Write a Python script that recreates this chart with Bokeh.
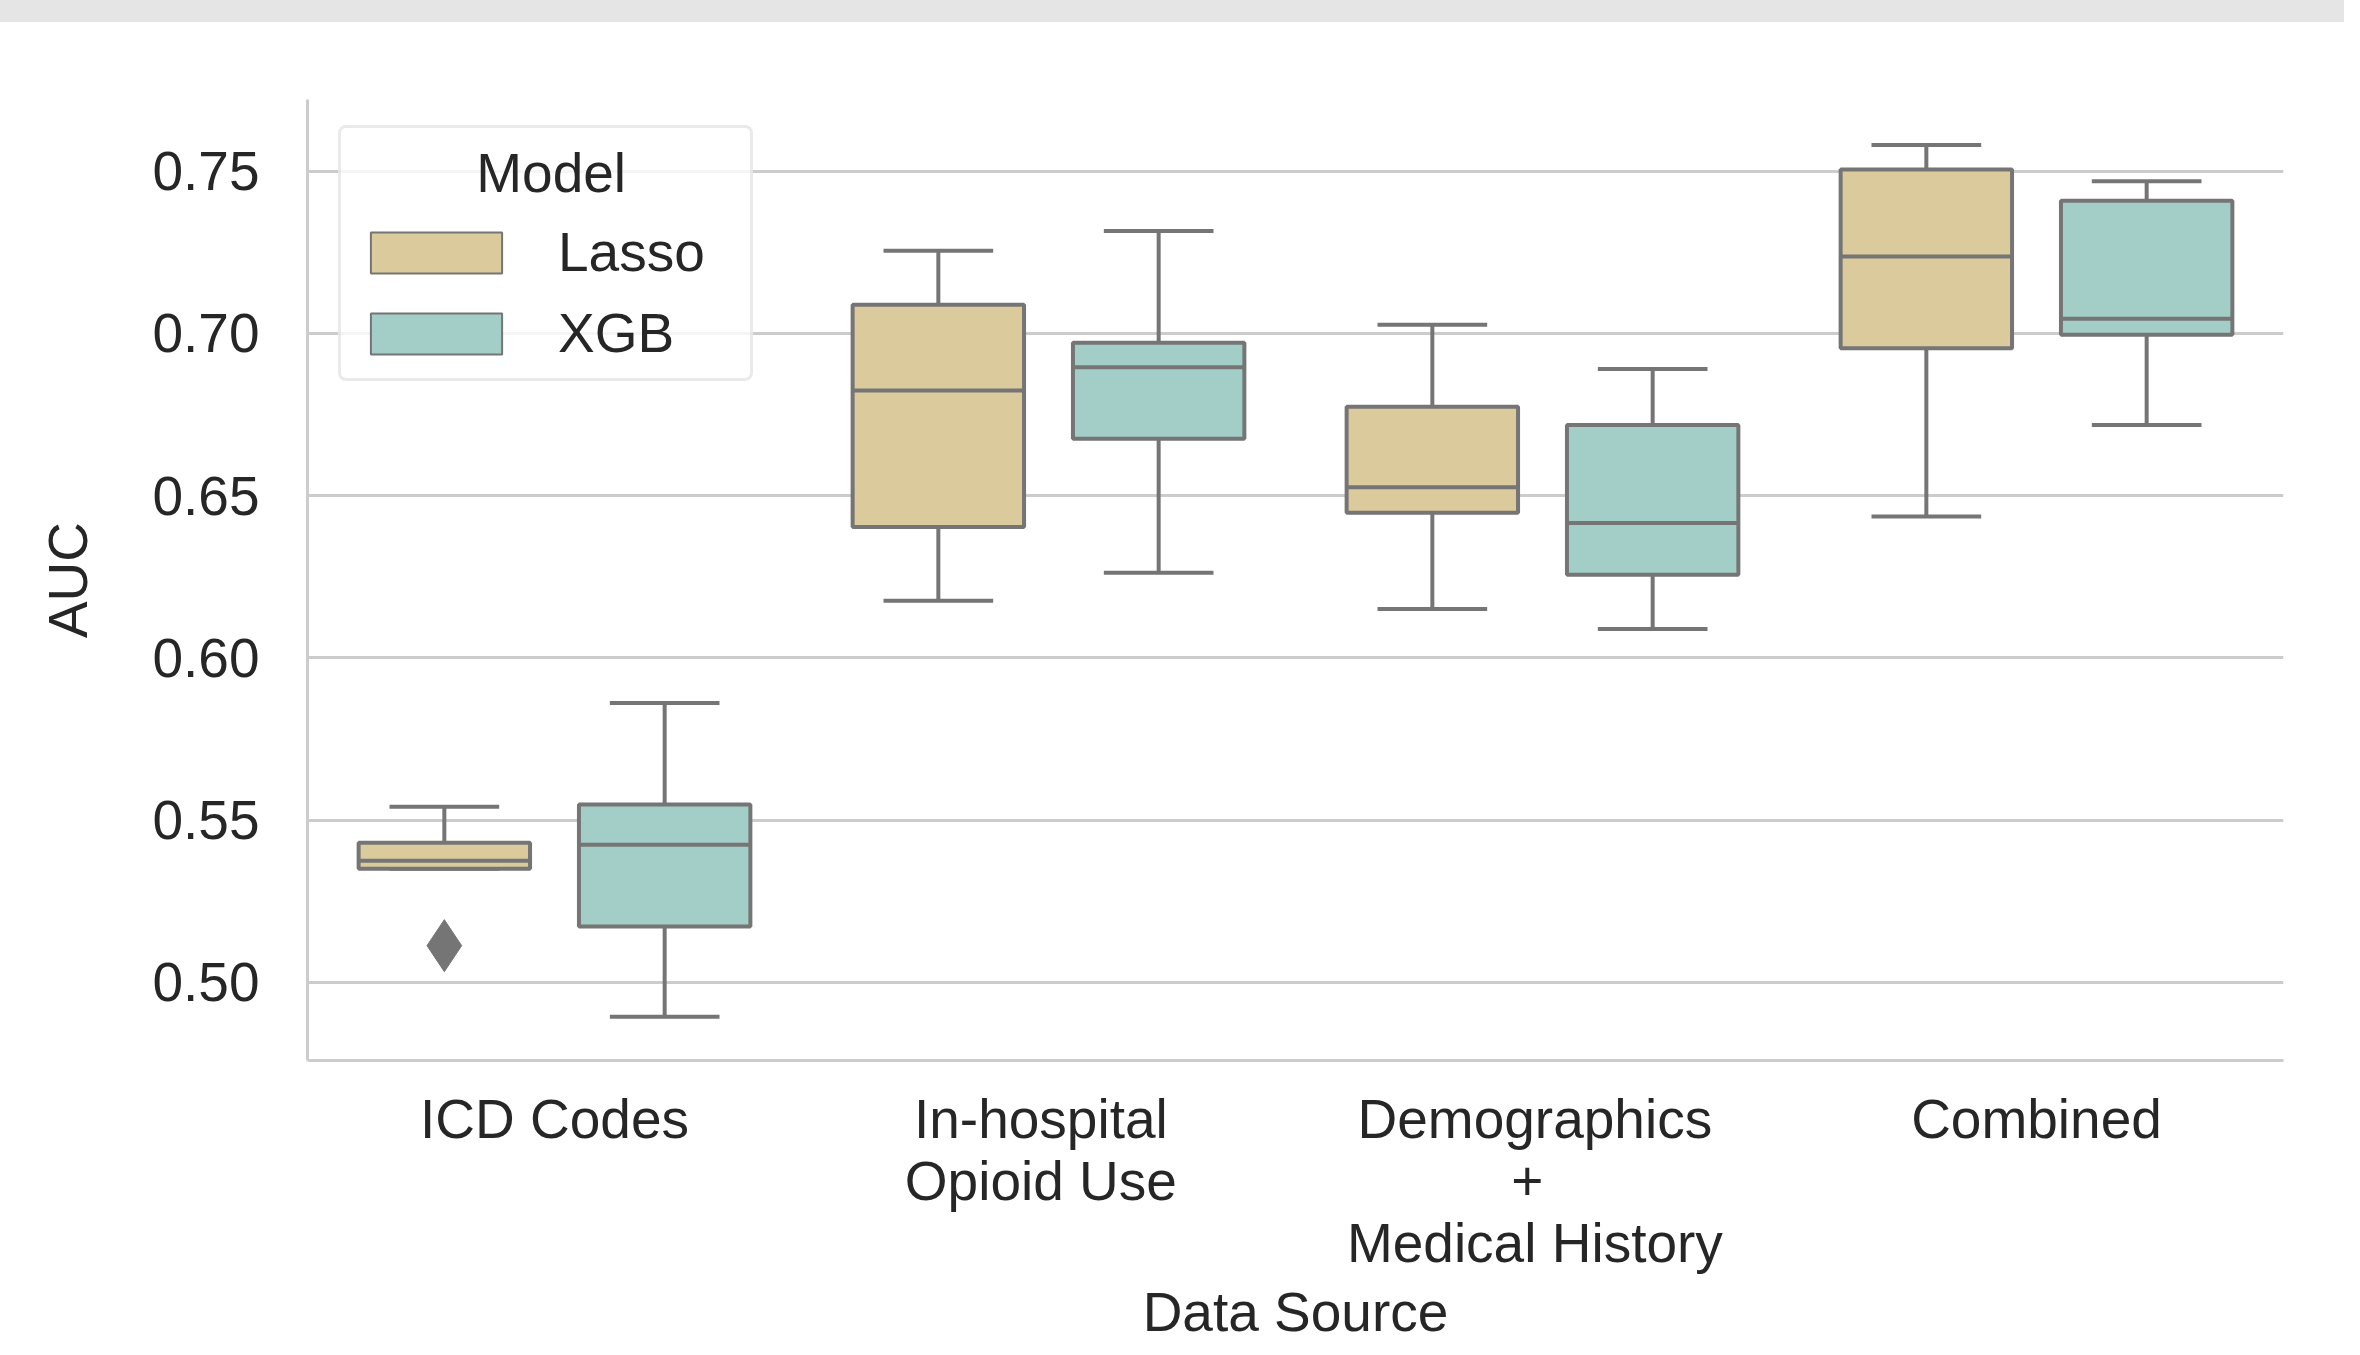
from bokeh.plotting import figure
from bokeh.models import (ColumnDataSource, FixedTicker, NumeralTickFormatter, Legend,
                          LegendItem, Div, Range1d, FactorRange)
from bokeh.transform import dodge
from bokeh.layouts import column
from bokeh.embed import file_html
from bokeh.resources import INLINE

# ---------------- data ----------------
categories = ["ICD Codes", "In-hospital Opioid Use", "Demographics + Medical History", "Combined"]
tick_labels = ["ICD Codes", "In-hospital \n Opioid Use", "Demographics \n + \n Medical History", "Combined"]
models = ["Lasso", "XGB"]

lasso_low = [0.5350, 0.6176, 0.6151, 0.6436]
lasso_q1 = [0.5350, 0.6403, 0.6447, 0.6954]
lasso_med = [0.5375, 0.6824, 0.6526, 0.7237]
lasso_q3 = [0.5430, 0.7088, 0.6774, 0.7505]
lasso_high = [0.5541, 0.7255, 0.7027, 0.7581]

xgb_low = [0.4894, 0.6262, 0.6089, 0.6718]
xgb_q1 = [0.5172, 0.6675, 0.6256, 0.6996]
xgb_med = [0.5424, 0.6896, 0.6416, 0.7045]
xgb_q3 = [0.5548, 0.6971, 0.6718, 0.7409]
xgb_high = [0.5861, 0.7316, 0.6890, 0.7469]

outlier_category = ["ICD Codes"]
outlier_value = [0.5113]

y_ticks = [0.50, 0.55, 0.60, 0.65, 0.70, 0.75]

# ---------------- style ----------------
FONT = "Liberation Sans"
FS = "55px"
TEXT = "#262626"
GRID = "#cccccc"
LINE = "#757575"
COLORS = {"Lasso": "#dbca9c", "XGB": "#a2cec7"}
OFFSETS = {"Lasso": -0.223, "XGB": 0.223}
BOX_W = 0.347
CAP_W = 0.222
LW = 4

label_of = dict(zip(categories, tick_labels))

p = figure(frame_width=1976, frame_height=961,
           x_range=FactorRange(factors=tick_labels),
           y_range=Range1d(0.4759, 0.7721),
           output_backend="svg", toolbar_location=None,
           min_border_left=299, min_border_right=69,
           min_border_top=77, min_border_bottom=287,
           outline_line_color=None, background_fill_color="white",
           border_fill_color="white", margin=(0, 0, 0, 8))

stats = {
    "Lasso": (lasso_low, lasso_q1, lasso_med, lasso_q3, lasso_high),
    "XGB": (xgb_low, xgb_q1, xgb_med, xgb_q3, xgb_high),
}

for m in models:
    low, q1, med, q3, high = stats[m]
    src = ColumnDataSource(dict(cat=[label_of[c] for c in categories],
                                low=low, q1=q1, med=med, q3=q3, high=high))
    off = OFFSETS[m]
    xc = dodge("cat", off, range=p.x_range)
    # whiskers
    p.segment(x0=xc, y0="q3", x1=xc, y1="high", source=src, line_color=LINE, line_width=LW)
    p.segment(x0=xc, y0="q1", x1=xc, y1="low", source=src, line_color=LINE, line_width=LW)
    # caps
    p.segment(x0=dodge("cat", off - CAP_W / 2, range=p.x_range), y0="high",
              x1=dodge("cat", off + CAP_W / 2, range=p.x_range), y1="high",
              source=src, line_color=LINE, line_width=LW)
    p.segment(x0=dodge("cat", off - CAP_W / 2, range=p.x_range), y0="low",
              x1=dodge("cat", off + CAP_W / 2, range=p.x_range), y1="low",
              source=src, line_color=LINE, line_width=LW)
    # boxes
    p.vbar(x=xc, width=BOX_W, bottom="q1", top="q3", source=src,
           fill_color=COLORS[m], line_color=LINE, line_width=LW)
    # medians
    p.segment(x0=dodge("cat", off - BOX_W / 2, range=p.x_range), y0="med",
              x1=dodge("cat", off + BOX_W / 2, range=p.x_range), y1="med",
              source=src, line_color=LINE, line_width=LW)

# outliers (Lasso)
osrc = ColumnDataSource(dict(cat=[label_of[c] for c in outlier_category], val=outlier_value))
p.scatter(x=dodge("cat", OFFSETS["Lasso"], range=p.x_range), y="val", source=osrc,
          marker="diamond", size=52, fill_color=LINE, line_color=LINE)

# legend proxies (not drawn in the plot area)
nan = float("nan")
legend_items = []
for m in models:
    r = p.vbar(x=[tick_labels[0]], top=[nan], bottom=[nan], width=0.3,
               fill_color=COLORS[m], line_color=LINE, line_width=2)
    legend_items.append(LegendItem(label=m, renderers=[r]))

legend_kw = dict(items=legend_items, title="\u00a0" * 8 + "Model", location=(31, 679), margin=0,
                 padding=13, spacing=17, glyph_width=164, glyph_height=51,
                 label_standoff=40, label_width=179,
                 label_text_font=FONT, label_text_font_size=FS, label_text_color=TEXT,
                 title_text_font=FONT, title_text_font_size=FS, title_text_color=TEXT,
                 title_text_font_style="normal",
                 title_standoff=15,
                 border_line_color="#d6d6d6", border_line_width=3,
                 background_fill_color="white", background_fill_alpha=0.8)
if "border_radius" in Legend.properties():
    legend_kw["border_radius"] = 8
legend = Legend(**legend_kw)
p.add_layout(legend)

# axes
p.xaxis.axis_label = "Data Source"
p.yaxis.axis_label = "AUC"
p.yaxis.ticker = FixedTicker(ticks=y_ticks)
p.yaxis.formatter = NumeralTickFormatter(format="0.00")

for ax in (p.xaxis, p.yaxis):
    ax.axis_line_color = GRID
    ax.axis_line_width = 3
    ax.major_tick_line_color = None
    ax.minor_tick_line_color = None
    ax.major_tick_out = 0
    ax.major_tick_in = 0
    ax.major_label_text_font = FONT
    ax.major_label_text_font_size = FS
    ax.major_label_text_color = TEXT
    ax.axis_label_text_font = FONT
    ax.axis_label_text_font_size = FS
    ax.axis_label_text_color = TEXT
    ax.axis_label_text_font_style = "normal"

p.xaxis.major_label_standoff = 27
p.xaxis.major_label_text_line_height = 1.0
p.xaxis.axis_label_standoff = 4
p.yaxis.major_label_standoff = 48
p.yaxis.axis_label_standoff = 50

p.xgrid.grid_line_color = None
p.ygrid.grid_line_color = GRID
p.ygrid.grid_line_width = 3

band = Div(text="", width=2360, height=30, margin=(-8, -8, 0, -8),
           styles={"background-color": "#e5e5e5"})

layout = column(band, p, spacing=0)

open("out.html", "w").write(file_html(layout, INLINE))
